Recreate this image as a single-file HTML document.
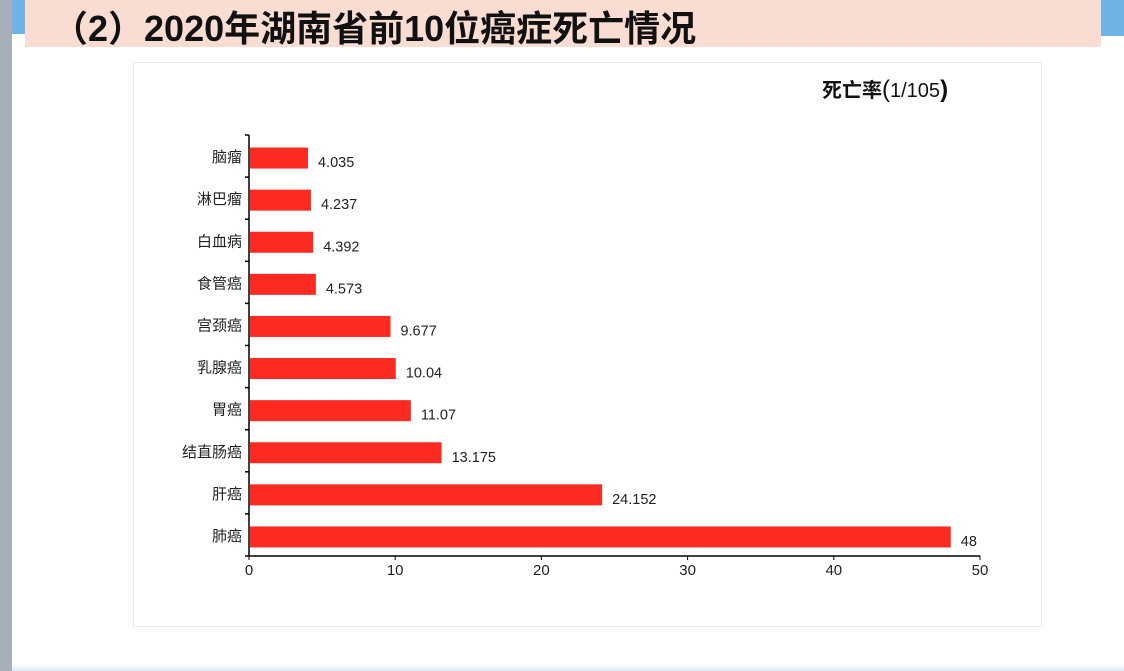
<!DOCTYPE html>
<html><head><meta charset="utf-8">
<style>
html,body{margin:0;padding:0;}
body{width:1124px;height:671px;position:relative;overflow:hidden;background:#fff;font-family:"Liberation Sans","Noto Sans CJK SC",sans-serif;}
#lstripe{position:absolute;left:0;top:0;width:12px;height:671px;background:#a9aebb;}
#lblue{position:absolute;left:12px;top:0;width:14px;height:34px;background:#6fb3e6;}
#rblue{position:absolute;left:1101px;top:0;width:23px;height:36px;background:#6fb3e6;}
#band{position:absolute;left:25px;top:0;width:1076px;height:47px;background:#f9dcd2;}
#title{position:absolute;left:52px;top:0px;font-size:36px;font-weight:bold;color:#111;white-space:nowrap;}
#bottom{position:absolute;left:12px;top:664px;width:1112px;height:7px;background:linear-gradient(#fff,#dbe8f6);}
#panel{position:absolute;left:133px;top:62px;width:907px;height:563px;border:1.5px solid #ececec;background:#fff;}
svg{position:absolute;left:0;top:0;}
</style></head><body>
<div id="lstripe"></div>
<div id="lblue"></div>
<div id="band"></div>
<div id="rblue"></div>
<div id="title">（2）2020年湖南省前10位癌症死亡情况</div>
<div id="bottom"></div>
<div id="panel"></div>
<svg id="chart" width="1124" height="671">
<text x="822" y="97" font-size="20" font-weight="bold" fill="#111">死亡率<tspan font-weight="normal" font-size="24">(</tspan><tspan font-weight="normal">1/105</tspan><tspan font-weight="bold" font-size="24">)</tspan></text>
</svg>
<script>
const categories=["脑瘤","淋巴瘤","白血病","食管癌","宫颈癌","乳腺癌","胃癌","结直肠癌","肝癌","肺癌"];
const values=[4.035,4.237,4.392,4.573,9.677,10.04,11.07,13.175,24.152,48];
const valueLabels=["4.035","4.237","4.392","4.573","9.677","10.04","11.07","13.175","24.152","48"];
const xTicks=[0,10,20,30,40,50];
const svg=document.getElementById('chart');
const NS='http://www.w3.org/2000/svg';
const x0=249,x1=980,yTop=135,yBot=556;
const xMax=50;
function xs(v){return x0+(v/xMax)*(x1-x0);}
const band=(yBot-yTop)/categories.length;
function yc(i){return yTop+band*(i+0.5)+2;}
function mk(t,a){const e=document.createElementNS(NS,t);for(const k in a)e.setAttribute(k,a[k]);svg.appendChild(e);return e;}
categories.forEach((c,i)=>{
  const r=mk('rect',{x:x0+1,y:yc(i)-10.5,width:xs(values[i])-x0-1,height:21,fill:'#fd2a22'});
  
  
  const vl=mk('text',{x:xs(values[i])+10,y:yc(i)+9,'font-size':14.5,fill:'#222'});
  vl.textContent=valueLabels[i];
  
  
  const cl=mk('text',{x:242,y:yc(i)+4,'font-size':15,fill:'#222','text-anchor':'end'});
  cl.textContent=c;
  
  
});
for(let i=0;i<=categories.length;i++){
  const y=yTop+band*i;
  mk('line',{x1:x0-4,x2:x0,y1:y,y2:y,stroke:'#000','stroke-width':1.5});
}
const ya=mk('line',{x1:x0,x2:x0,y1:yTop,y2:yBot,stroke:'#000','stroke-width':1.5});


const xa=mk('line',{x1:x0,x2:x1,y1:yBot,y2:yBot,stroke:'#000','stroke-width':1.5});


xTicks.forEach(t=>{
  mk('line',{x1:xs(t),x2:xs(t),y1:yBot,y2:yBot+4,stroke:'#000','stroke-width':1});
  const tl=mk('text',{x:xs(t),y:yBot+19,'font-size':15,fill:'#222','text-anchor':'middle'});
  tl.textContent=t;
  
  
});
</script>
</body></html>
